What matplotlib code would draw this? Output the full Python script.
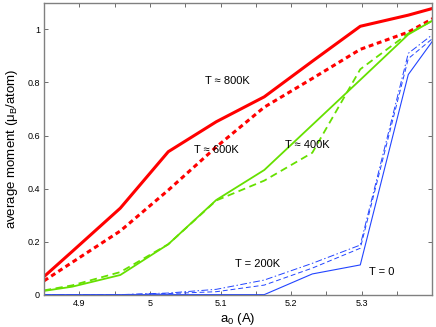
import numpy as np
import matplotlib
matplotlib.use('Agg')
from matplotlib import pyplot as plt
from matplotlib.ticker import MultipleLocator

plt.rcParams['font.family'] = ['Liberation Sans', 'DejaVu Sans']
plt.rcParams['mathtext.fontset'] = 'custom'
plt.rcParams['mathtext.rm'] = 'Liberation Sans'
plt.rcParams['mathtext.it'] = 'Liberation Sans'

# lattice constants (first value read at the left edge of the axes)
a0 = [4.85, 4.89, 4.958, 5.026, 5.094, 5.162, 5.230, 5.298, 5.366, 5.434]

m_800 = [0.068, 0.163, 0.326, 0.539, 0.652, 0.746, 0.880, 1.012, 1.054, 1.104]
m_600 = [0.052, 0.122, 0.240, 0.394, 0.557, 0.707, 0.815, 0.925, 0.990, 1.090]
m_400 = [0.014, 0.030, 0.074, 0.190, 0.357, 0.470, 0.640, 0.810, 0.981, 1.085]
m_400b = [0.016, 0.035, 0.085, 0.190, 0.355, 0.430, 0.535, 0.850, 0.985, 1.080]
m_200a = [0.0, 0.0, 0.0, 0.004, 0.011, 0.036, 0.100, 0.175, 0.890, 1.040]
m_200b = [0.0, 0.0, 0.0, 0.006, 0.020, 0.055, 0.118, 0.187, 0.910, 1.050]
m_0 = [0.0, 0.0, 0.0, 0.0, 0.0, 0.0, 0.078, 0.112, 0.830, 1.080]

labels = ['T \u2248 800K', 'T \u2248 600K', 'T \u2248 400K', 'T = 200K', 'T = 0']
label_pos = [(5.078, 0.805), (5.062, 0.545), (5.192, 0.564), (5.121, 0.115), (5.310, 0.087)]

red = '#ff0000'
green = '#66e000'
blue = '#2244ff'

fig = plt.figure(figsize=(4.36, 3.27), dpi=100)
ax = fig.add_axes([0.101, 0.099, 0.8905, 0.892])

ax.plot(a0, m_800, c=red, lw=2.2)
ax.plot(a0, m_600, c=red, lw=2.2, ls=(0, (1.6, 1.2)))
ax.plot(a0, m_400, c=green, lw=1.3)
ax.plot(a0, m_400b, c=green, lw=1.3, ls=(0, (4, 2.5)))
ax.plot(a0, m_200a, c=blue, lw=0.7, ls=(0, (5, 3)))
ax.plot(a0, m_200b, c=blue, lw=0.7, ls=(0, (7, 2.5, 1.5, 2.5)))
ax.plot(a0, m_0, c=blue, lw=0.8)

for s, (x, y) in zip(labels, label_pos):
    ax.text(x, y, s, fontsize=8, va='center', ha='left')

ax.set_xlim(4.85, 5.40)
ax.set_ylim(0, 1.1)
ax.xaxis.set_minor_locator(MultipleLocator(0.05))
ax.set_xticks([4.9, 5.0, 5.1, 5.2, 5.3])
ax.set_xticklabels(['4.9', '5', '5.1', '5.2', '5.3'])
ax.set_yticks([0, 0.2, 0.4, 0.6, 0.8, 1.0])
ax.set_yticklabels(['0', '0.2', '0.4', '0.6', '0.8', '1'])
ax.tick_params(which='both', direction='in', top=True, right=True,
               length=3, width=0.6, color='#555555', labelsize=6.5, pad=3)

for sp in ax.spines.values():
    sp.set_color('#808080')
    sp.set_linewidth(1.0)

ax.set_xlabel(r'a$_0$ (A)', fontsize=9.5, labelpad=2)
ax.set_ylabel(r'average moment ($\mu_\mathrm{B}$/atom)', fontsize=9.5, labelpad=5)

fig.savefig('out.png', dpi=100)
